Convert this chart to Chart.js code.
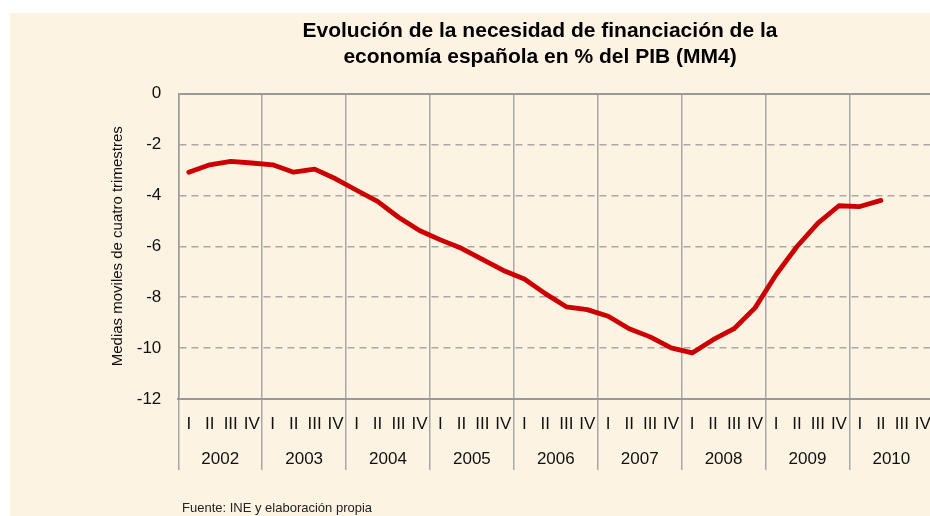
<!DOCTYPE html>
<html>
<head>
<meta charset="utf-8">
<script src="https://cdn.jsdelivr.net/npm/chart.js@4.4.1/dist/chart.umd.min.js"></script>
<style>
html,body{margin:0;padding:0;width:930px;height:516px;overflow:hidden;background:#ffffff;}
#bg{position:absolute;left:10px;top:13px;width:920px;height:503px;background:#fdf3e3;}
#wrap{position:absolute;left:0;top:0;width:940px;height:516px;}
#title{position:absolute;left:190px;top:17px;width:700px;text-align:center;font-family:'Liberation Sans',Arial,sans-serif;font-weight:bold;font-size:21px;line-height:26px;color:#000;}
#src{position:absolute;left:182px;top:500px;font-family:'Liberation Sans Narrow','Arial Narrow','Liberation Sans',sans-serif;font-size:13px;line-height:16px;color:#222;}
</style>
</head>
<body>
<div id="bg"></div>
<div id="wrap"><canvas id="c" width="940" height="516" style="width:940px;height:516px"></canvas></div>
<div id="title">Evolución de la necesidad de financiación de la<br>economía española en % del PIB (MM4)</div>
<div id="src">Fuente: INE y elaboración propia</div>
<script>
// ---- Data ----
const years = ['2002','2003','2004','2005','2006','2007','2008','2009','2010'];
const quarterNames = ['I','II','III','IV'];
const quarterLabels = [
  'I','II','III','IV', 'I','II','III','IV', 'I','II','III','IV',
  'I','II','III','IV', 'I','II','III','IV', 'I','II','III','IV',
  'I','II','III','IV', 'I','II','III','IV', 'I','II','III','IV'
];
const values = [
  -3.09, -2.80, -2.67, -2.73,   // 2002
  -2.80, -3.09, -2.97, -3.35,   // 2003
  -3.80, -4.24, -4.86, -5.38,   // 2004
  -5.75, -6.08, -6.52, -6.95,   // 2005
  -7.29, -7.86, -8.38, -8.49,   // 2006
  -8.75, -9.24, -9.56, -9.99,   // 2007
  -10.19, -9.67, -9.24, -8.42,  // 2008
  -7.12, -6.01, -5.09, -4.41,   // 2009
  -4.44, -4.20, null, null      // 2010
];
const yMin = -12, yMax = 0, yStep = 2;
const yTitle = 'Medias moviles de cuatro trimestres';

const FONT = "'Liberation Sans', Arial, sans-serif";
const NARROW = "'Liberation Sans Narrow', 'Arial Narrow', 'Liberation Sans', sans-serif";

new Chart(document.getElementById('c'), {
  type: 'line',
  data: {
    labels: quarterLabels,
    datasets: [{
      data: values,
      borderColor: '#cc0000',
      borderWidth: 4.8,
      pointRadius: 0,
      tension: 0,
      fill: false,
      borderCapStyle: 'round',
      borderJoinStyle: 'round'
    }]
  },
  options: {
    responsive: false,
    animation: false,
    layout: { padding: { left: 10, top: 93.5, right: 6.7, bottom: 42 } },
    plugins: { legend: { display: false }, tooltip: { enabled: false }, title: { display: false } },
    scales: {
      x: {
        type: 'category',
        offset: true,
        weight: 0,
        grid: {
          offset: true,
          drawOnChartArea: true,
          drawTicks: true,
          tickLength: 71,
          color: ctx => (ctx.index % 4 === 0 ? '#a8a8a8' : 'rgba(0,0,0,0)'),
          lineWidth: 1.5
        },
        border: { display: true, color: '#999999', width: 2 },
        ticks: { autoSkip: false, maxRotation: 0, minRotation: 0, padding: -56, font: { family: FONT, size: 17 }, color: '#111' },
        afterFit: s => { s.height = 45; }
      },
      x2: {
        type: 'category',
        labels: years,
        offset: true,
        position: 'bottom',
        weight: 1,
        grid: { display: false },
        border: { display: false },
        ticks: { autoSkip: false, maxRotation: 0, minRotation: 0, padding: -3, font: { family: FONT, size: 17 }, color: '#111' },
        afterFit: s => { s.height = 30; }
      },
      y: {
        min: yMin,
        max: yMax,
        ticks: { stepSize: yStep, padding: 17, font: { family: FONT, size: 17 }, color: '#111' },
        grid: {
          drawTicks: false,
          color: ctx => (ctx.tick && (ctx.tick.value === yMax || ctx.tick.value === yMin)) ? '#999999' : '#a8a8a8',
          lineWidth: ctx => (ctx.tick && (ctx.tick.value === yMax || ctx.tick.value === yMin)) ? 2 : 1.5
        },
        border: {
          display: true, color: '#999999', width: 1.5,
          dash: ctx => (ctx.tick && (ctx.tick.value === yMax || ctx.tick.value === yMin)) ? [] : [7, 5]
        },
        title: { display: true, text: yTitle, font: { family: NARROW, size: 15 }, color: '#111', padding: { top: 99, bottom: 0 } },
        afterFit: s => { s.width = 168.3; }
      }
    }
  }
});
</script>
</body>
</html>
